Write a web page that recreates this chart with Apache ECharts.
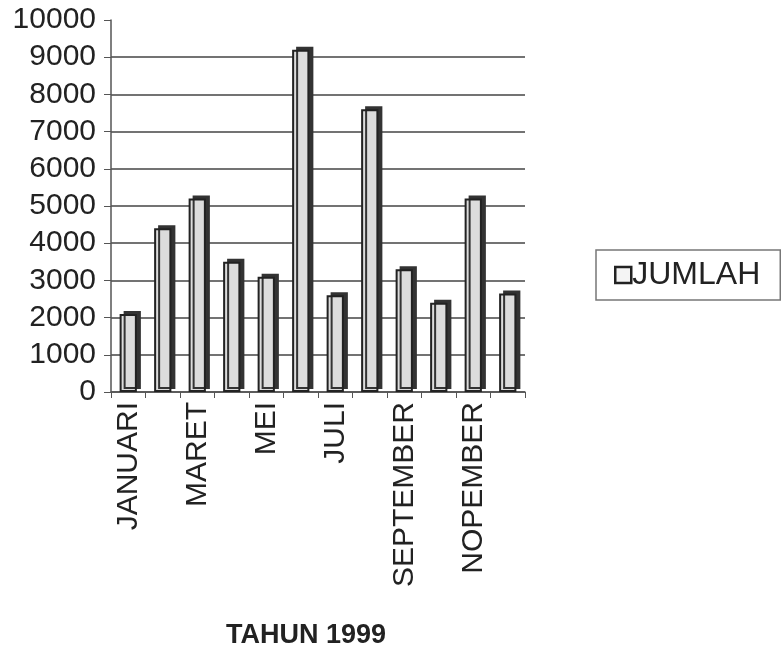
<!DOCTYPE html>
<html>
<head>
<meta charset="utf-8">
<script src="https://cdn.jsdelivr.net/npm/echarts@6/dist/echarts.min.js"></script>
<style>
  html, body { margin: 0; padding: 0; background: #fff; }
  #chart { width: 781px; height: 652px; }
</style>
</head>
<body>
<div id="chart"></div>
<script>
// bulan-bulan tahun 1999
var months = ['JANUARI', 'FEBRUARI', 'MARET', 'APRIL', 'MEI', 'JUNI', 'JULI',
  'AGUSTUS', 'SEPTEMBER', 'OKTOBER', 'NOPEMBER', 'DESEMBER'];
var jumlah = [2100, 4400, 5200, 3500, 3100, 9200, 2600, 7600, 3300, 2400, 5200, 2650];
var yTicks = [0, 1000, 2000, 3000, 4000, 5000, 6000, 7000, 8000, 9000, 10000];

var chart = echarts.init(document.getElementById('chart'));
var option = {
  backgroundColor: '#fff',
  animation: false,
  textStyle: { fontFamily: 'Liberation Sans, Arial, sans-serif', color: '#222' },
  grid: { left: 111, right: 256, top: 20, bottom: 260, containLabel: false, outerBoundsMode: 'none' },
  legend: {
    data: ['JUMLAH'],
    left: 596,
    top: 250,
    orient: 'vertical',
    padding: [9, 20, 9, 18],
    borderColor: '#777',
    borderWidth: 1.5,
    itemWidth: 16,
    itemHeight: 16,
    itemGap: 4,
    icon: 'rect',
    itemStyle: { color: '#f4f4f4', borderColor: '#222', borderWidth: 2.5 },
    textStyle: { fontSize: 32, color: '#222', padding: [0, 0, 0, -4] }
  },
  xAxis: {
    type: 'category',
    data: months,
    name: 'TAHUN 1999',
    nameLocation: 'middle',
    nameGap: 230,
    nameTextStyle: { fontSize: 27, fontWeight: 'bold', color: '#222', padding: [0, 24, 0, 0] },
    axisLine: { lineStyle: { color: '#555', width: 1.5 } },
    axisTick: { show: true, alignWithLabel: false, interval: 0, length: 6, lineStyle: { color: '#555' } },
    axisLabel: { interval: 1, rotate: 90, fontSize: 30, color: '#222', margin: 10 }
  },
  yAxis: {
    type: 'value',
    min: yTicks[0],
    max: yTicks[yTicks.length - 1],
    interval: 1000,
    axisLine: { show: true, lineStyle: { color: '#555', width: 1.5 } },
    axisTick: { show: true, length: 7, lineStyle: { color: '#555' } },
    axisLabel: { fontSize: 30, color: '#222', margin: 15, formatter: function (v) { return String(v); } },
    splitLine: { showMaxLine: false, lineStyle: { color: '#444', width: 1.5 } }
  },
  series: [{
    name: 'JUMLAH',
    type: 'bar',
    data: jumlah,
    barWidth: '50%',
    itemStyle: {
      color: '#dcdcdc',
      borderColor: '#222',
      borderWidth: 2,
      shadowColor: '#333',
      shadowBlur: 0,
      shadowOffsetX: 4,
      shadowOffsetY: -3
    }
  }]
};
chart.setOption(option);
</script>
</body>
</html>
